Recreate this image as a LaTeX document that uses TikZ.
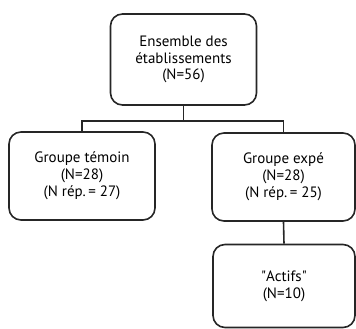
\documentclass[tikz,border=0pt]{standalone}
\usepackage{fontspec}
\setmainfont{PT Sans}
\begin{document}
\begin{tikzpicture}[x=1pt,y=-1pt,
  box/.style={draw=black!85, line width=1.6pt, rounded corners=12pt, align=center,
    font=\fontsize{15}{16.8}\selectfont, inner sep=0pt},
  link/.style={draw=black!85, line width=1.6pt}]
\useasboundingbox (0,0) rectangle (356,329);
\node[box, minimum width=146pt, minimum height=91pt] (top) at (183.5,59.5)
  {Ensemble des\\établissements\\(N=56)};
\node[box, minimum width=146pt, minimum height=88pt] (left) at (82,176)
  {Groupe témoin\\(N=28)\\(N rép.\,= 27)};
\node[box, minimum width=143pt, minimum height=88pt] (right) at (283.5,177)
  {Groupe expé\\(N=28)\\(N rép.\,= 25)};
\node[box, minimum width=142pt, minimum height=83pt] (act) at (284,286)
  {\textquotedbl Actifs\textquotedbl\\(N=10)};
\coordinate (mid) at (183.5,121);
\draw[link] (top.south) -- (mid);
\draw[link] (left.north) |- (mid) -| (right.north);
\draw[link] (right.south) -- (act.north);
\end{tikzpicture}
\end{document}
